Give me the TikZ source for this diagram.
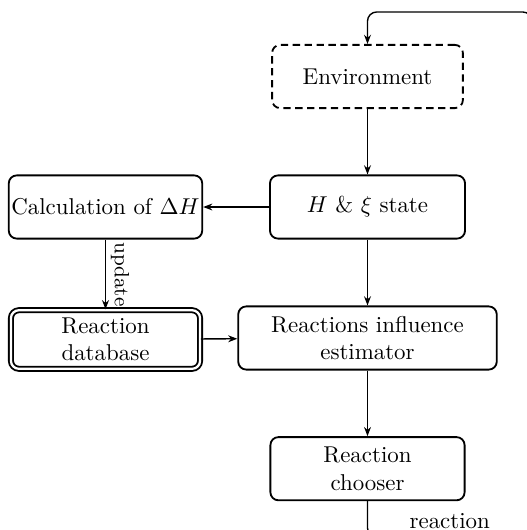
\documentclass[tikz,border=0pt]{standalone}
\usetikzlibrary{arrows.meta}
\begin{document}
\begin{tikzpicture}[x=0.4367pt,y=-0.4367pt,
  box/.style={draw,thick,rounded corners=3.5pt,align=center,inner sep=1pt,minimum height=27.6pt},
  conn/.style={semithick,-{Stealth[length=4pt,width=3pt]}}]
\useasboundingbox (0,0) rectangle (526,530);
\node[box,dash pattern=on 3.2pt off 2pt,minimum width=83.3pt] (env) at (367.5,76.5) {Environment};
\node[box,minimum width=85.2pt] (state) at (367.5,207) {$H$ \& $\xi$ state};
\node[box,minimum width=84.5pt] (calc) at (105.5,207) {Calculation of $\Delta H$};
\node[box,double,double distance=1pt,minimum width=82.6pt,minimum height=25.6pt] (db) at (105.5,339.5) {Reaction\\database};
\node[box,minimum width=112.9pt] (est) at (367.5,338) {Reactions influence\\estimator};
\node[box,minimum width=84.8pt] (chooser) at (367.5,468.7) {Reaction\\chooser};
\coordinate (c1) at (367.5,537);
\coordinate (c2) at (532,537);
\coordinate (c3) at (532,12);
\coordinate (c4) at (367.5,12);
\draw[conn] (env) -- (state);
\draw[conn] (state) -- (calc);
\draw[conn] (calc) -- node[midway,above,sloped,font=\small,inner sep=2pt] {update} (db);
\draw[conn] (db) -- (est);
\draw[conn] (state) -- (est);
\draw[conn] (est) -- (chooser);
\draw[conn,rounded corners=4pt] (chooser.south) -- (c1) -- node[midway,above] {reaction} (c2) -- (c3) -- (c4) -- (env.north);
\end{tikzpicture}
\end{document}
